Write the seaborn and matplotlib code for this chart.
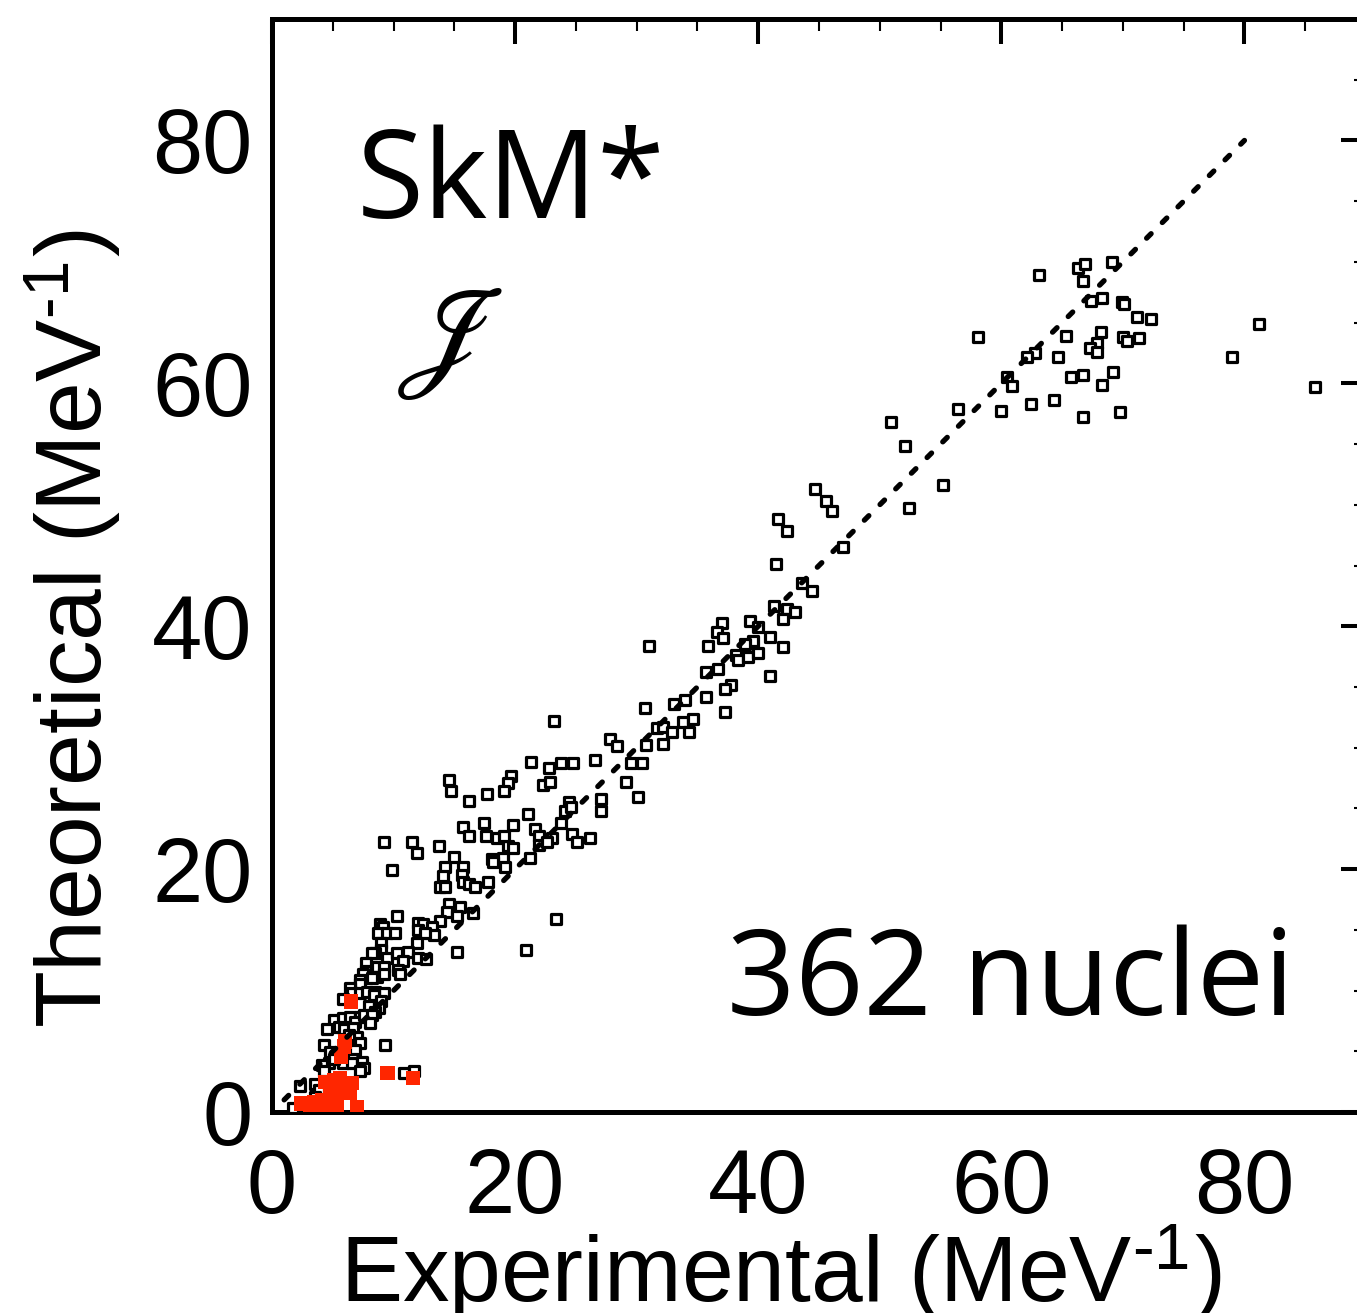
import matplotlib
matplotlib.use("Agg")
import matplotlib.pyplot as plt
import seaborn as sns
import pandas as pd
from matplotlib.ticker import MultipleLocator

# Moments of inertia (MeV^-1): experimental vs. SkM* calculation
black_x = [85.8, 81.2, 79.0, 72.3, 71.2, 63.1, 66.3, 66.9, 69.1, 66.7, 67.4, 68.3, 69.9, 70.1,
           58.1, 65.3, 68.2, 67.9, 67.3, 67.9, 70.0, 70.3, 71.3, 62.8, 62.1, 64.7, 60.5, 60.9,
           65.7, 66.7, 69.2, 68.3, 56.4, 60.0, 62.4, 64.3, 66.7, 69.8,
           50.9, 52.1, 55.2, 52.4, 44.7, 45.6, 46.1, 41.6, 42.4, 47.0, 41.5, 43.6, 44.4, 41.3,
           42.4, 43.0, 42.0, 39.3, 40.0, 37.0, 36.6, 37.1, 41.0, 39.6, 38.9, 42.0, 38.2, 38.3,
           39.2, 40.0, 41.0, 37.8, 37.3, 35.9, 31.0, 35.7, 36.7, 35.7, 37.3, 33.1, 34.0, 30.7,
           23.2, 31.7, 32.2, 32.9, 33.8, 34.6, 34.3, 27.8, 28.4, 30.8, 32.2, 29.5, 30.4, 26.6,
           21.3, 22.8, 23.8, 24.8, 19.7, 19.4, 19.1, 22.3, 22.9, 17.7, 29.1, 30.1, 27.1, 27.1,
           24.4, 24.1, 24.6, 21.1, 23.8, 17.4, 19.8, 21.6, 17.6, 18.5, 22.0, 23.0, 22.0, 24.7,
           25.1, 26.2, 19.4, 19.8, 18.1, 19.0, 14.6, 14.7, 16.2, 15.7, 16.2, 19.1, 22.6, 9.2,
           11.5, 11.9, 13.7, 21.2, 15.0, 14.2, 15.7, 14.1, 15.6, 18.2, 19.2, 9.9, 13.8, 14.2,
           15.7, 16.2, 16.7, 17.8, 14.6, 15.5, 14.4, 15.2, 16.5, 10.3, 23.4, 8.9, 9.1, 8.7,
           9.5, 10.1, 12.0, 12.4, 13.8, 13.2, 13.3, 12.0, 12.6, 9.0, 11.9, 11.2, 12.0, 15.2,
           20.9, 9.0, 8.5, 9.5, 10.3, 10.8, 8.6, 9.2, 10.4, 10.5, 8.6, 8.5, 9.2, 8.2, 12.7,
           7.7, 9.2, 7.7, 7.5, 8.2, 7.2, 7.2, 6.4, 6.6, 7.2, 7.8, 8.4, 9.0, 5.8, 8.0, 8.8,
           8.5, 5.1, 5.8, 6.4, 7.2, 6.8, 7.6, 8.2, 8.1, 4.5, 5.5, 5.9, 6.7, 7.0, 6.3, 7.2,
           9.3, 4.3, 4.8, 5.8, 6.8, 6.7, 4.7, 5.8, 5.1, 6.6, 7.4, 7.6, 7.2, 4.1, 4.3, 2.3,
           3.5, 3.9, 3.5, 1.7, 10.9, 11.7]
black_y = [59.7, 64.9, 62.2, 65.3, 65.5, 68.9, 69.5, 69.8, 70.0, 68.4, 66.8, 67.0, 66.7, 66.5,
           63.8, 63.9, 64.2, 63.3, 62.9, 62.6, 63.8, 63.5, 63.7, 62.5, 62.2, 62.2, 60.5, 59.8,
           60.5, 60.7, 60.9, 59.9, 57.9, 57.7, 58.3, 58.6, 57.2, 57.6,
           56.8, 54.8, 51.6, 49.7, 51.3, 50.3, 49.5, 48.8, 47.8, 46.5, 45.1, 43.6, 42.9, 41.7,
           41.4, 41.2, 40.6, 40.4, 39.9, 40.3, 39.5, 39.0, 39.1, 38.8, 38.5, 38.3, 37.6, 37.2,
           37.5, 37.8, 35.9, 35.2, 34.8, 38.4, 38.4, 36.2, 36.5, 34.2, 32.9, 33.6, 33.9, 33.3,
           32.2, 31.6, 31.7, 31.3, 32.1, 32.4, 31.3, 30.7, 30.1, 30.2, 30.3, 28.7, 28.7, 29.0,
           28.8, 28.3, 28.7, 28.7, 27.7, 27.1, 26.4, 26.9, 27.2, 26.2, 27.2, 25.9, 25.8, 24.8,
           25.5, 24.8, 25.1, 24.5, 23.8, 23.8, 23.6, 23.3, 22.7, 22.6, 22.7, 22.6, 22.0, 22.9,
           22.2, 22.6, 21.9, 21.7, 20.8, 20.9, 27.3, 26.4, 25.6, 23.5, 22.7, 22.7, 22.2, 22.2,
           22.2, 21.3, 21.9, 20.9, 21.0, 20.2, 20.2, 19.4, 19.5, 20.6, 20.2, 19.9, 18.5, 18.5,
           18.9, 18.8, 18.5, 18.9, 17.1, 16.9, 16.5, 16.1, 16.4, 16.1, 15.9, 15.5, 15.2, 14.7,
           14.7, 14.7, 15.6, 15.5, 15.7, 15.2, 14.6, 15.0, 14.7, 13.9, 13.9, 13.2, 12.7, 13.2,
           13.3, 13.3, 13.1, 12.7, 13.1, 12.4, 11.9, 11.9, 11.7, 11.4, 11.1, 9.9, 9.8, 13.1, 12.6,
           12.3, 11.4, 11.6, 11.4, 11.0, 10.9, 10.5, 10.2, 9.8, 9.8, 9.9, 9.6, 9.1, 9.3, 8.7, 8.6,
           8.2, 7.6, 7.7, 7.8, 7.8, 7.4, 8.0, 8.0, 7.3, 6.8, 7.0, 6.8, 6.9, 6.2, 6.3, 5.7,
           5.5, 5.5, 4.9, 4.9, 5.1, 4.4, 4.0, 4.0, 4.4, 4.0, 4.1, 3.6, 3.4, 3.9, 3.4, 2.1,
           2.3, 1.8, 1.2, 0.3, 3.2, 3.4]

red_x = [6.5, 6.0, 5.9, 5.7, 9.5, 11.6, 4.4, 5.1, 5.6, 4.8, 5.3, 5.8, 6.6, 6.4, 5.2, 6.0,
         2.4, 3.5, 4.1, 4.8, 3.1, 3.9, 4.7, 5.3, 5.2, 7.0]
red_y = [9.1, 5.8, 5.4, 4.5, 3.2, 2.8, 2.5, 2.6, 2.8, 2.0, 2.1, 2.2, 2.4, 1.6, 1.6, 1.6,
         0.7, 0.8, 1.0, 0.7, 0.4, 0.4, 0.4, 0.6, 0.3, 0.4]

# reference line: theory = experiment
diag_x = [1.0, 80.0]
diag_y = [1.0, 80.0]

x_ticks = [0, 20, 40, 60, 80]
y_ticks = [0, 20, 40, 60, 80]
axis_limits = (0, 90)

black = pd.DataFrame({"exp": black_x, "theo": black_y})
red = pd.DataFrame({"exp": red_x, "theo": red_y})
diag = pd.DataFrame({"exp": diag_x, "theo": diag_y})

sns.set_theme(style="white")
plt.rcParams["font.family"] = ["Liberation Sans", "DejaVu Sans"]
plt.rcParams["mathtext.fontset"] = "stix"
plt.rcParams["text.color"] = "black"
plt.rcParams["axes.labelcolor"] = "black"
plt.rcParams["xtick.color"] = "black"
plt.rcParams["ytick.color"] = "black"

fig = plt.figure(figsize=(13.57, 13.13), dpi=100)
ax = fig.add_axes([272 / 1357, 201 / 1313, 1094 / 1357, 1093 / 1313])

sns.scatterplot(data=black, x="exp", y="theo", ax=ax, marker="s", zorder=3)
open_sq = ax.collections[-1]
open_sq.set_sizes([56])
open_sq.set_facecolor("white")
open_sq.set_edgecolor("black")
open_sq.set_linewidth(2.3)

sns.scatterplot(data=red, x="exp", y="theo", ax=ax, marker="s", zorder=4)
red_sq = ax.collections[-1]
red_sq.set_sizes([105])
red_sq.set_facecolor("#ff2600")
red_sq.set_edgecolor("none")
red_sq.set_linewidth(0)

sns.lineplot(data=diag, x="exp", y="theo", ax=ax, color="black", zorder=5)
diag_line = ax.lines[-1]
diag_line.set_linewidth(3.8)
diag_line.set_dashes((1.2, 3.0))
diag_line.set_dash_capstyle("round")

ax.set_xlim(*axis_limits)
ax.set_ylim(*axis_limits)
ax.set_xticks(x_ticks)
ax.set_yticks(y_ticks)
ax.xaxis.set_minor_locator(MultipleLocator(5))
ax.yaxis.set_minor_locator(MultipleLocator(5))
ax.tick_params(which="both", direction="in", top=True, right=True, colors="black")
ax.tick_params(which="major", length=18, width=2.9, labelsize=65, pad=14)
ax.tick_params(which="minor", length=8.6, width=1.5)
ax.tick_params(axis="x", which="major", pad=25)

for sp in ax.spines.values():
    sp.set_linewidth(3.6)
    sp.set_color("black")

ax.set_xlabel("Experimental (MeV$^{\\mathregular{\u20101}}$)", fontsize=67)
ax.set_ylabel("Theoretical (MeV$^{\\mathregular{\u20101}}$)", fontsize=67)
ax.xaxis.set_label_coords(0.465, -0.102)
ax.yaxis.set_label_coords(-0.135, 0.442)

ax.text(7.0, 73.6, "SkM*", fontsize=88, family="Open Sans", va="baseline", ha="left")
ax.text(14.6, 63.4, r"$\mathscr{J}$", fontsize=95, va="center", ha="center")
ax.text(37.4, 8.0, "362 nuclei", fontsize=86, family="Open Sans", va="baseline", ha="left")

fig.savefig("out.png", dpi=100)
